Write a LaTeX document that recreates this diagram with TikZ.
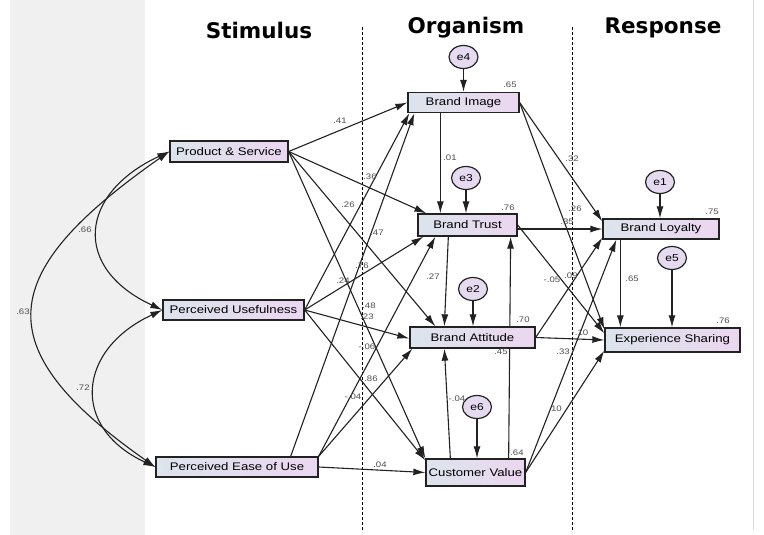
\documentclass[tikz,border=0pt]{standalone}
\usepackage{fontspec}
\setmainfont{Liberation Sans}[FakeStretch=1.2]
\newfontfamily\headfont{DejaVu Sans}
\usetikzlibrary{arrows.meta,shapes.geometric}
\pgfdeclarelayer{back}
\pgfdeclarelayer{edges}
\pgfsetlayers{back,edges,main}
\definecolor{boxl}{HTML}{DCE4EC}
\definecolor{boxr}{HTML}{EBD6F0}
\definecolor{errc}{HTML}{E6DAF0}
\definecolor{band}{HTML}{F0F0F0}
\definecolor{ink}{HTML}{222222}

\begin{document}
\begin{tikzpicture}[x=1pt,y=-1pt,>={Latex[length=12pt,width=7pt]},
  var/.style={draw=ink,line width=1.3pt,left color=boxl,right color=boxr,inner sep=0pt,font=\fontsize{11}{13}\selectfont},
  err/.style={ellipse,draw=ink,line width=1.2pt,fill=errc,minimum width=29pt,minimum height=23pt,inner sep=0pt,font=\fontsize{10}{12}\selectfont},
  reg/.style={->,line width=1.1pt,draw=ink},
  cov/.style={<->,line width=1.1pt,draw=ink},
  lab/.style={font=\fontsize{8}{9}\selectfont,text=ink!80,inner sep=0pt},
  head/.style={font=\headfont\bfseries\fontsize{21.5}{24}\selectfont},
  divider/.style={dash pattern=on 3pt off 2pt,line width=0.8pt}]

\useasboundingbox (0,0) rectangle (764,535);

\begin{pgfonlayer}{back}
\fill[white] (0,0) rectangle (764,535);
\fill[band] (10,0) rectangle (145,535);
\draw[divider] (362,27) -- (362,532);
\draw[divider] (572,27) -- (572,532);
\draw[black!15,line width=0.8pt] (753,0) -- (753,530);
\end{pgfonlayer}

\node[head] (hs) at (259,30) {Stimulus};
\node[head] (ho) at (466,28) {Organism};
\node[head] (hr) at (663,28) {Response};

% exogenous
\node[var,minimum width=118pt,minimum height=21pt] (ps) at (229,151.5) {Product \& Service};
\node[var,minimum width=141pt,minimum height=20pt] (pu) at (233.5,310) {Perceived Usefulness};
\node[var,minimum width=162pt,minimum height=20pt] (peu) at (237,467) {Perceived Ease of Use};

% organism
\node[var,minimum width=111pt,minimum height=20pt] (bi) at (463.5,102.5) {Brand Image};
\node[var,minimum width=99pt,minimum height=22pt] (bt) at (467.5,225) {Brand Trust};
\node[var,minimum width=125pt,minimum height=21pt] (ba) at (472.5,337.5) {Brand Attitude};
\node[var,minimum width=99pt,minimum height=27pt] (cv) at (475.5,472.5) {Customer Value};

% response
\node[var,minimum width=116pt,minimum height=20pt] (bl) at (661,229) {Brand Loyalty};
\node[var,minimum width=135pt,minimum height=24pt] (es) at (672.5,340) {Experience Sharing};

% errors
\node[err] (e4) at (463.5,57) {e4};
\node[err] (e3) at (466,178) {e3};
\node[err] (e2) at (473,289) {e2};
\node[err] (e6) at (477,407) {e6};
\node[err] (e1) at (660,182) {e1};
\node[err] (e5) at (672,258) {e5};

\begin{pgfonlayer}{edges}
% stimulus -> organism
\draw[reg] (ps.east) -- (bi.west);
\draw[reg] (ps.east) -- ([xshift=9pt]bt.north west);
\draw[reg] (ps.east) -- ([xshift=26pt]ba.north west);
\draw[reg] (ps.east) -- (cv.north west);
\draw[reg] (pu.east) -- ([xshift=2pt]bi.south west);
\draw[reg] (pu.east) -- ([xshift=6pt]bt.south west);
\draw[reg] (pu.east) -- ([yshift=-1pt]ba.west);
\draw[reg] (pu.east) -- ([yshift=-2pt]cv.north west);
\draw[reg] ([xshift=-28pt]peu.north east) -- ([xshift=7pt]bi.south west);
\draw[reg] (peu.north east) -- ([xshift=18pt]bt.south west);
\draw[reg] (peu.north east) -- ([xshift=3pt]ba.south west);
\draw[reg] (peu.east) -- (cv.west);
% within organism
\draw[reg] ([xshift=33pt]bi.south west) -- ([xshift=23pt]bt.north west);
\draw[reg] ([xshift=31pt]bt.south west) -- ([xshift=35pt]ba.north west);
\draw[reg] ([xshift=25pt]cv.north west) -- ([xshift=35pt]ba.south west);
\draw[reg] ([xshift=-17pt]cv.north east) -- ([xshift=-7pt]bt.south east);
% organism -> response
\draw[reg] (bi.east) -- ([yshift=-3pt]bl.north west);
\draw[reg] (bi.east) -- ([yshift=-2pt]es.north west);
\draw[reg] ([yshift=-4pt]bt.east) -- (bl.west);
\draw[reg] (bt.east) -- ([yshift=-6pt]es.north west);
\draw[reg] (ba.east) -- ([yshift=2pt]bl.south west);
\draw[reg] (ba.east) -- (es.west);
\draw[reg] (cv.east) -- ([xshift=14pt]bl.south west);
\draw[reg] (cv.east) -- ([yshift=2pt]es.south west);
\draw[reg] ([xshift=18pt]bl.south west) -- ([xshift=16pt]es.north west);
% errors
\draw[reg] (e4) -- (e4 |- bi.north);
\draw[reg] (e3) -- (e3 |- bt.north);
\draw[reg] (e2) -- (e2 |- ba.north);
\draw[reg] (e6) -- (e6 |- cv.north);
\draw[reg] (e1) -- (e1 |- bl.north);
\draw[reg] (e5) -- (e5 |- es.north);
% covariances
\draw[cov] (ps.west) to[out=205,in=155,looseness=1.61] (pu.west);
\draw[cov] (pu.west) to[out=205,in=155,looseness=1.53] (peu.west);
\draw[cov] (ps.west) to[out=215,in=145,looseness=1.7] (peu.west);
\end{pgfonlayer}

% estimates
\foreach \x/\y/\t [count=\i] in {340/121/.41, 370/177/.36, 348/205/.26, 377/233/.47,
  362/266/.76, 343/281/.24, 369/306/.48, 367/317/.23, 367/347/-.06, 371/379/.86,
  353/397/-.04, 380/465/.04, 450/158/.01, 433/277/.27, 457/399/-.04, 501/352/.45,
  510/85/.65, 508/208/.76, 523/320/.70, 517/453/.64, 712/212/.75, 723/321/.76,
  572/159/.32, 575/209/.26, 567/222/.35, 552/280/-.05, 571/276/.09, 580/333/-.10,
  563/352/.33, 555/409/.10, 632/279/.65, 85/230/.66, 83/388/.72, 23/312/.63}{%
\node[lab] (l\i) at (\x,\y) {\t};
}

\end{tikzpicture}
\end{document}
